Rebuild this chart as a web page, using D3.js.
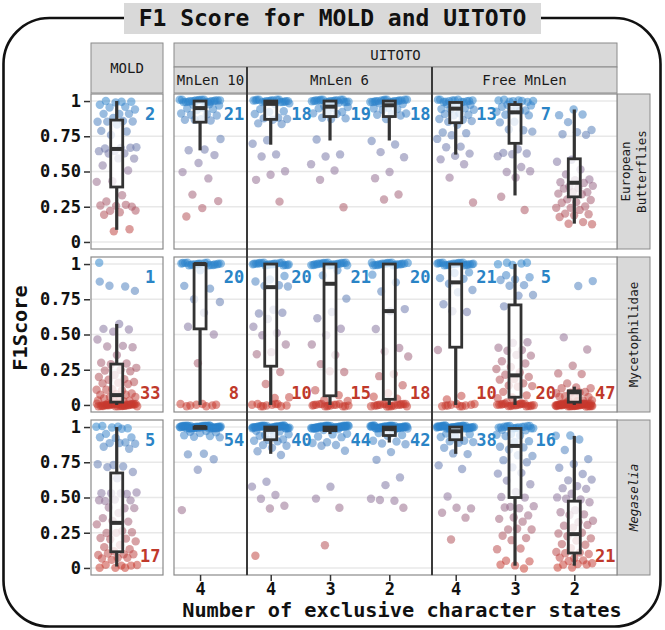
<!DOCTYPE html>
<html><head><meta charset="utf-8">
<script src="https://cdn.jsdelivr.net/npm/d3@7"></script>
<style>body{margin:0;background:#fff}text{font-family:"DejaVu Sans Mono",monospace}</style>
</head><body><svg id="c" width="665" height="630"></svg>
<script>
// ---------- data ----------
const species = ["European Butterflies", "Mycetophilidae", "Megaselia"];
const panelNames = ["MOLD", "MnLen 10", "MnLen 6", "Free MnLen"];
const panelCats = [["MOLD"], ["4"], ["4", "3", "2"], ["4", "3", "2"]];
const groupPanel = [0, 1, 2, 2, 2, 3, 3, 3];
const groupCat = [0, 0, 0, 1, 2, 0, 1, 2];
const yTicks = [0, 0.25, 0.5, 0.75, 1];
const yTickLabels = ["0", "0.25", "0.50", "0.75", "1"];

// counts of scores equal to exactly 1 and exactly 0 per group
const onesButterflies = [2, 21, 18, 19, 18, 13, 7, 0];
const zerosButterflies = [0, 0, 0, 0, 0, 0, 0, 0];
const onesMyceto = [1, 20, 20, 21, 20, 21, 5, 0];
const zerosMyceto = [33, 8, 10, 15, 18, 10, 20, 47];
const onesMegaselia = [5, 54, 40, 44, 42, 38, 16, 0];
const zerosMegaselia = [0, 0, 0, 0, 0, 0, 0, 0];

// remaining scores per group
const otherButterflies = [
  [0.99,0.98,0.98,0.96,0.95,0.93,0.915,0.91,0.905,0.87,0.86,0.86,0.85,0.846,0.84,0.79,0.78,0.75,0.68,0.67,0.66,0.66,0.654,0.647,0.626,0.62,0.60,0.596,0.54,0.50,0.44,0.43,0.33,0.28,0.26,0.26,0.257,0.257,0.23,0.227,0.21,0.187,0.10,0.08],
  [0.98,0.97,0.96,0.96,0.95,0.94,0.93,0.92,0.91,0.90,0.89,0.88,0.87,0.86,0.86,0.74,0.66,0.65,0.61,0.57,0.50,0.45,0.33,0.30,0.245,0.18],
  [0.98,0.97,0.95,0.93,0.92,0.90,0.89,0.88,0.87,0.86,0.85,0.84,0.72,0.69,0.63,0.61,0.50,0.47,0.45,0.29],
  [0.98,0.97,0.96,0.95,0.94,0.93,0.92,0.91,0.90,0.89,0.88,0.87,0.72,0.63,0.61,0.55,0.50,0.45,0.25],
  [0.98,0.97,0.96,0.95,0.94,0.93,0.92,0.91,0.90,0.89,0.88,0.72,0.69,0.63,0.61,0.50,0.45,0.33,0.31],
  [0.98,0.97,0.96,0.95,0.95,0.94,0.93,0.92,0.91,0.90,0.89,0.88,0.87,0.85,0.85,0.84,0.78,0.77,0.75,0.74,0.68,0.67,0.62,0.62,0.59,0.55,0.45,0.29],
  [0.99,0.98,0.97,0.96,0.95,0.94,0.93,0.92,0.92,0.91,0.90,0.85,0.84,0.80,0.80,0.78,0.65,0.64,0.63,0.62,0.60,0.54,0.50,0.50,0.45,0.33,0.23],
  [0.946,0.90,0.90,0.84,0.80,0.78,0.76,0.75,0.59,0.57,0.51,0.47,0.45,0.44,0.42,0.41,0.40,0.40,0.38,0.37,0.36,0.355,0.34,0.33,0.31,0.30,0.28,0.27,0.26,0.245,0.24,0.22,0.21,0.20,0.187,0.17,0.15,0.133,0.124]
];
const otherMyceto = [
  [0.88,0.84,0.84,0.82,0.58,0.54,0.53,0.51,0.47,0.42,0.41,0.40,0.36,0.30,0.29,0.28,0.27,0.25,0.24,0.23,0.22,0.20,0.18,0.17,0.17,0.16,0.15,0.14,0.12,0.11,0.10,0.10,0.09,0.08,0.07,0.065,0.065,0.06,0.05,0.04,0.04,0.03,0.03,0.02,0.02],
  [0.95,0.855,0.83,0.75,0.725,0.665,0.56,0.50,0.29],
  [0.92,0.89,0.87,0.86,0.85,0.84,0.67,0.66,0.66,0.61,0.55,0.50,0.50,0.43,0.37,0.35,0.24,0.15,0.05,0.04],
  [0.95,0.93,0.76,0.66,0.61,0.53,0.50,0.43,0.35,0.28,0.24,0.24,0.10,0.06,0.04,0.03],
  [0.93,0.87,0.80,0.67,0.67,0.54,0.40,0.37,0.35,0.22,0.20,0.13,0.09,0.06,0.04],
  [0.94,0.93,0.91,0.90,0.86,0.81,0.81,0.72,0.66,0.66,0.38,0.07,0.04],
  [0.93,0.91,0.89,0.88,0.86,0.85,0.78,0.77,0.71,0.45,0.44,0.40,0.40,0.39,0.35,0.35,0.30,0.30,0.27,0.25,0.22,0.22,0.20,0.18,0.17,0.16,0.14,0.13,0.12,0.10,0.07,0.05,0.04,0.02,0.02],
  [0.88,0.84,0.47,0.40,0.28,0.22,0.21,0.16,0.12,0.12,0.11,0.10,0.09,0.08,0.08,0.07,0.06,0.05,0.05,0.04,0.03,0.03,0.02,0.02]
];
const otherMegaselia = [
  [0.98,0.96,0.93,0.92,0.92,0.90,0.89,0.88,0.88,0.87,0.85,0.73,0.73,0.73,0.72,0.68,0.63,0.54,0.53,0.53,0.53,0.52,0.48,0.48,0.48,0.47,0.43,0.43,0.42,0.38,0.36,0.33,0.33,0.30,0.27,0.25,0.25,0.24,0.22,0.21,0.20,0.18,0.17,0.15,0.13,0.11,0.10,0.10,0.10,0.09,0.08,0.07,0.07,0.05,0.03,0.02,0.02,0.01,0.01,0.005,0.0],
  [0.99,0.98,0.97,0.96,0.95,0.95,0.94,0.93,0.92,0.82,0.81,0.77,0.69,0.42],
  [0.98,0.97,0.96,0.95,0.95,0.94,0.93,0.92,0.91,0.90,0.89,0.88,0.87,0.85,0.82,0.81,0.615,0.575,0.51,0.50,0.445,0.42,0.08],
  [0.99,0.98,0.97,0.96,0.95,0.93,0.92,0.90,0.89,0.87,0.86,0.84,0.58,0.49,0.42,0.17],
  [0.98,0.97,0.96,0.94,0.93,0.91,0.90,0.88,0.87,0.83,0.77,0.64,0.58,0.50,0.48,0.48,0.42],
  [0.98,0.96,0.95,0.93,0.92,0.91,0.90,0.89,0.88,0.86,0.81,0.81,0.72,0.71,0.51,0.42,0.42,0.40,0.36,0.20],
  [0.98,0.97,0.96,0.95,0.94,0.93,0.91,0.90,0.86,0.85,0.83,0.80,0.80,0.76,0.74,0.72,0.67,0.67,0.61,0.60,0.54,0.50,0.49,0.44,0.44,0.42,0.42,0.38,0.36,0.345,0.32,0.28,0.275,0.275,0.22,0.22,0.20,0.13,0.13,0.06,0.05,0.016,0.016,0.005],
  [0.937,0.93,0.92,0.84,0.77,0.73,0.72,0.67,0.62,0.62,0.59,0.57,0.56,0.52,0.51,0.49,0.49,0.46,0.42,0.40,0.38,0.37,0.345,0.33,0.30,0.30,0.275,0.25,0.25,0.22,0.20,0.20,0.17,0.16,0.13,0.12,0.11,0.10,0.09,0.075,0.075,0.05,0.04,0.04,0.03,0.02,0.016,0.01,0.005]
];

// box statistics: [lower whisker, q1, median, q3, upper whisker]
const boxButterflies = [
  [0.086,0.39,0.66,0.865,1],[0.65,0.85,0.95,1,1],[0.69,0.87,0.98,1,1],[0.72,0.89,0.96,1,1],
  [0.72,0.89,0.97,1,1],[0.62,0.846,0.946,0.99,1],[0.33,0.70,0.92,0.975,1],[0.13,0.32,0.42,0.59,0.94]
];
const boxMyceto = [
  [0,0.02,0.07,0.29,0.575],[0,0.54,1,1,1],[0,0.275,0.836,1,1],[0,0.065,0.86,1,1],
  [0,0.04,0.666,1,1],[0,0.41,0.87,1,1],[0,0.055,0.21,0.71,1],[0,0.02,0.09,0.10,0.13]
];
const boxMegaselia = [
  [0.01,0.115,0.32,0.674,1],[0.99,0.99,1,1,1],[0.81,0.91,0.98,1,1],[0.95,0.975,0.99,1,1],
  [0.89,0.94,0.985,1,1],[0.81,0.91,0.97,1,1],[0.016,0.50,0.866,0.99,1],[0.016,0.106,0.24,0.474,0.937]
];

const blueLabels = [
  ["2","21","18","19","18","13","7",""],
  ["1","20","20","21","20","21","5",""],
  ["5","54","40","44","42","38","16",""]
];
const redLabels = [
  ["","","","","","","",""],
  ["33","8","10","15","18","10","20","47"],
  ["17","","","","","","","21"]
];

// ---------- layout ----------
const svg = d3.select("#c");
const rowTop = [94, 257, 420], rowH = 155;
const panelX = [[91,163],[174,247],[247,432],[432,617]];
const stripRight = [617, 650];
const ones = [onesButterflies, onesMyceto, onesMegaselia];
const zeros = [zerosButterflies, zerosMyceto, zerosMegaselia];
const others = [otherButterflies, otherMyceto, otherMegaselia];
const boxes = [boxButterflies, boxMyceto, boxMegaselia];

const xScales = panelCats.map((cats, p) =>
  d3.scaleLinear().domain([0.6, cats.length + 0.72]).range(panelX[p]));
const yScales = rowTop.map(t => d3.scaleLinear().domain([-0.05, 1.05]).range([t + rowH, t]));
const color = d3.scaleLinear().domain([0, 0.5, 1]).range(["#c8382c", "#8a6f98", "#2b82cc"]);

// outer rounded frame and title
svg.append("rect").attr("x", 3.5).attr("y", 18).attr("width", 657).attr("height", 608.5)
  .attr("rx", 46).attr("fill", "none").attr("stroke", "#111").attr("stroke-width", 2.6);
svg.append("rect").attr("x", 124).attr("y", 3).attr("width", 417).attr("height", 31).attr("fill", "#d9d9d9");
svg.append("text").attr("x", 332.5).attr("y", 26).attr("text-anchor", "middle")
  .attr("font-size", 23).attr("font-weight", "bold").attr("fill", "#111")
  .text("F1 Score for MOLD and UITOTO");

// top strips
const stripFill = "#d9d9d9", stripStroke = "#8a8a8a";
function strip(x0, y0, x1, y1, label, fs) {
  svg.append("rect").attr("x", x0).attr("y", y0).attr("width", x1 - x0).attr("height", y1 - y0)
    .attr("fill", stripFill).attr("stroke", stripStroke).attr("stroke-width", 1);
  svg.append("text").attr("x", (x0 + x1) / 2).attr("y", (y0 + y1) / 2).attr("dy", "0.35em")
    .attr("text-anchor", "middle").attr("font-size", fs).attr("fill", "#1a1a1a").text(label);
}
strip(panelX[0][0], 43, panelX[0][1], 93, "MOLD", 14);
strip(panelX[1][0], 43, panelX[3][1], 67, "UITOTO", 14);
for (let p = 1; p < 4; p++) strip(panelX[p][0], 67, panelX[p][1], 93, panelNames[p], 14);

// right strips
species.forEach((s, r) => {
  const y0 = rowTop[r], y1 = rowTop[r] + rowH;
  svg.append("rect").attr("x", stripRight[0]).attr("y", y0).attr("width", stripRight[1] - stripRight[0])
    .attr("height", rowH).attr("fill", stripFill).attr("stroke", stripStroke);
  const g = svg.append("g").attr("transform", `translate(${(stripRight[0] + stripRight[1]) / 2},${(y0 + y1) / 2}) rotate(-90)`);
  const lines = s === "European Butterflies" ? ["European", "Butterflies"] : [s];
  lines.forEach((ln, i) => {
    g.append("text").attr("x", 0).attr("y", (i - (lines.length - 1) / 2) * 16).attr("dy", "0.35em")
      .attr("text-anchor", "middle").attr("font-size", 12.5).attr("fill", "#1a1a1a")
      .attr("font-style", s === "Megaselia" ? "italic" : "normal").text(ln);
  });
});

// jitter helpers (deterministic layout, not data)
const jx = (i, g, r) => ((((i + 1) * 0.6180339887 + g * 0.1234 + r * 0.4567) % 1) - 0.5) * 0.64;
const jy = (i, r) => ((((i + 1) * 0.7548776662 + r * 0.31) % 1) - 0.5) * 3;

species.forEach((s, r) => {
  const y = yScales[r];
  // panels backgrounds + grid
  panelX.forEach((px, p) => {
    svg.append("rect").attr("x", px[0]).attr("y", rowTop[r]).attr("width", px[1] - px[0]).attr("height", rowH)
      .attr("fill", "#fff");
    svg.append("g").selectAll("line").data(yTicks).join("line")
      .attr("x1", px[0]).attr("x2", px[1]).attr("y1", d => y(d)).attr("y2", d => y(d))
      .attr("stroke", "#e8e8e8").attr("stroke-width", 1.6);
  });
  // points
  for (let g = 0; g < 8; g++) {
    const p = groupPanel[g], c = groupCat[g] + 1, x = xScales[p];
    const vals = [].concat(d3.range(ones[r][g]).map(() => 1), d3.range(zeros[r][g]).map(() => 0), others[r][g]);
    svg.append("g").selectAll("circle").data(vals).join("circle")
      .attr("cx", (d, i) => x(c + jx(i, g, r)))
      .attr("cy", (d, i) => y(d) + jy(i, r))
      .attr("r", 4.2).attr("fill", d => color(d)).attr("fill-opacity", 0.52);
  }
  // boxes
  for (let g = 0; g < 8; g++) {
    const p = groupPanel[g], c = groupCat[g] + 1, x = xScales[p];
    const [lo, q1, med, q3, hi] = boxes[r][g];
    const cx = x(c), hw = 6;
    const bg = svg.append("g").attr("stroke", "#333");
    bg.append("line").attr("x1", cx).attr("x2", cx).attr("y1", y(hi)).attr("y2", y(q3)).attr("stroke-width", 3.2);
    bg.append("line").attr("x1", cx).attr("x2", cx).attr("y1", y(q1)).attr("y2", y(lo)).attr("stroke-width", 3.2);
    bg.append("rect").attr("x", cx - hw).attr("y", y(q3)).attr("width", 2 * hw)
      .attr("height", Math.max(0.5, y(q1) - y(q3))).attr("fill", "#fff").attr("fill-opacity", 0.75)
      .attr("stroke-width", 2.8);
    bg.append("line").attr("x1", cx - hw).attr("x2", cx + hw).attr("y1", y(med)).attr("y2", y(med)).attr("stroke-width", 4);
    // count labels
    const lx = x(c + 0.52);
    if (blueLabels[r][g]) svg.append("text").attr("x", lx).attr("y", y(0.91)).attr("dy", "0.35em")
      .attr("text-anchor", "middle").attr("font-size", 17).attr("font-weight", "bold")
      .attr("fill", "#2a84c6").text(blueLabels[r][g]);
    if (redLabels[r][g]) svg.append("text").attr("x", lx).attr("y", y(0.085)).attr("dy", "0.35em")
      .attr("text-anchor", "middle").attr("font-size", 17).attr("font-weight", "bold")
      .attr("fill", "#c0392b").text(redLabels[r][g]);
  }
  // panel borders
  panelX.forEach(px => {
    svg.append("rect").attr("x", px[0]).attr("y", rowTop[r]).attr("width", px[1] - px[0]).attr("height", rowH)
      .attr("fill", "none").attr("stroke", "#8a8a8a").attr("stroke-width", 1.2);
  });
  // y axis
  const ax = svg.append("g").attr("transform", `translate(${panelX[0][0] - 1},0)`)
    .call(d3.axisLeft(y).tickValues(yTicks).tickFormat((d, i) => yTickLabels[i]).tickSize(6).tickPadding(3));
  ax.select(".domain").remove();
  ax.selectAll("line").attr("stroke", "#333").attr("stroke-width", 1.5);
  ax.selectAll("text").attr("font-family", "DejaVu Sans Mono").attr("font-size", 17)
    .attr("font-weight", "bold").attr("fill", "#111");
});

// dark dividers between UITOTO groups
[panelX[2][0], panelX[3][0]].forEach(xv => {
  svg.append("line").attr("x1", xv).attr("x2", xv).attr("y1", 67).attr("y2", rowTop[2] + rowH)
    .attr("stroke", "#3a3a3a").attr("stroke-width", 2);
});

// x axes on bottom row
for (let p = 1; p < 4; p++) {
  const ax = svg.append("g").attr("transform", `translate(0,${rowTop[2] + rowH})`)
    .call(d3.axisBottom(xScales[p]).tickValues(d3.range(1, panelCats[p].length + 1))
      .tickFormat(d => panelCats[p][d - 1]).tickSize(6).tickPadding(2));
  ax.select(".domain").remove();
  ax.selectAll("line").attr("stroke", "#333").attr("stroke-width", 1.5);
  ax.selectAll("text").attr("font-family", "DejaVu Sans Mono").attr("font-size", 17)
    .attr("font-weight", "bold").attr("fill", "#111");
}

// axis titles
svg.append("text").attr("x", 402).attr("y", 617).attr("text-anchor", "middle")
  .attr("font-size", 20.3).attr("font-weight", "bold").attr("fill", "#111")
  .text("Number of exclusive character states");
svg.append("text").attr("transform", "translate(20,328) rotate(-90)").attr("dy", "0.35em")
  .attr("text-anchor", "middle").attr("font-size", 20.3).attr("font-weight", "bold").attr("fill", "#111")
  .text("F1Score");
</script></body></html>
